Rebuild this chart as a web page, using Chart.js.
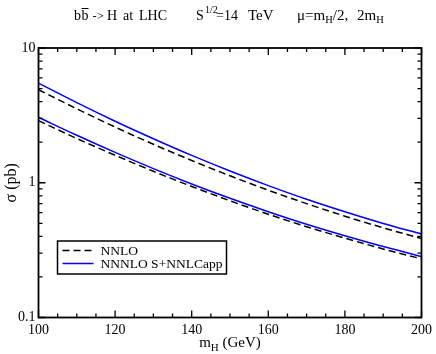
<!DOCTYPE html>
<html>
<head>
<meta charset="utf-8">
<script src="https://cdn.jsdelivr.net/npm/chart.js@4/dist/chart.umd.min.js"></script>
<style>
html,body{margin:0;padding:0;background:#fff;}
#wrap{width:436px;height:354px;position:relative;}
</style>
</head>
<body>
<div id="wrap"><canvas id="c" width="436" height="354"></canvas></div>
<script>
// ---- data ----
const massGeV = [100, 110, 120, 130, 140, 150, 160, 170, 180, 190, 200];
const nnloUpper  = [4.90, 3.54, 2.59, 1.93, 1.464, 1.126, 0.880, 0.700, 0.565, 0.463, 0.386];
const nnloLower  = [2.89, 2.13, 1.60, 1.216, 0.939, 0.735, 0.584, 0.472, 0.388, 0.3225, 0.2725];
const nnnloUpper = [5.49, 3.93, 2.86, 2.12, 1.595, 1.222, 0.952, 0.754, 0.609, 0.499, 0.417];
const nnnloLower = [3.06, 2.25, 1.68, 1.273, 0.980, 0.767, 0.610, 0.492, 0.404, 0.336, 0.284];
const xTickLabels = [100, 120, 140, 160, 180, 200];
const yTickLabels = [0.1, 1, 10];
const legendLabels = ['NNLO', 'NNNLO S+NNLCapp'];

const SERIF = '"Liberation Serif", "Times New Roman", serif';
const BLUE = '#0000ff';

function pts(ys){ return massGeV.map((m,i)=>({x:m, y:ys[i]})); }

const dashStyle = {borderColor:'#000', borderWidth:1.5, borderDash:[7,4], pointRadius:0, fill:false, cubicInterpolationMode:'monotone'};
const solidStyle = {borderColor:BLUE, borderWidth:1.5, pointRadius:0, fill:false, cubicInterpolationMode:'monotone'};

const decor = {
  id:'decor',
  afterDraw(chart){
    const ctx = chart.ctx, a = chart.chartArea;
    const xs = chart.scales.x, ys = chart.scales.y;
    ctx.save();
    // frame
    ctx.strokeStyle = '#000'; ctx.lineWidth = 1.8; ctx.setLineDash([]);
    ctx.strokeRect(a.left, a.top, a.right - a.left, a.bottom - a.top);
    // ticks
    ctx.lineWidth = 1.3;
    ctx.beginPath();
    for (let v = 100; v <= 200; v += 5) {
      const px = xs.getPixelForValue(v);
      const len = (v % 20 === 0) ? 7 : 4;
      ctx.moveTo(px, a.bottom); ctx.lineTo(px, a.bottom - len);
      ctx.moveTo(px, a.top); ctx.lineTo(px, a.top + len);
    }
    [0.1, 1].forEach(d => {
      for (let k = 1; k <= 10; k++) {
        const v = d * k;
        const py = ys.getPixelForValue(v);
        const len = (k === 1 || k === 10) ? 7 : 4;
        ctx.moveTo(a.left, py); ctx.lineTo(a.left + len, py);
        ctx.moveTo(a.right, py); ctx.lineTo(a.right - len, py);
      }
    });
    ctx.stroke();

    // title
    ctx.fillStyle = '#000';
    ctx.textBaseline = 'alphabetic'; ctx.textAlign = 'left';
    const f14 = '14px ' + SERIF, f10 = '10px ' + SERIF;
    const put = (t, x, y, f) => { ctx.font = f; ctx.fillText(t, x, y); return ctx.measureText(t).width; };
    const by = 20;
    put('b', 74, by, f14);
    const wb = put('b', 81.5, by, f14);
    ctx.lineWidth = 1; ctx.beginPath(); ctx.moveTo(81.5, by - 11.5); ctx.lineTo(81.5 + wb, by - 11.5); ctx.stroke();
    put('->', 92.5, by, '12.5px ' + SERIF);
    put('H', 107, by, f14);
    put('at', 123, by, f14);
    put('LHC', 139, by, f14);
    put('S', 196, by, f14);
    put('1/2', 205, by - 7, f10);
    put('=14', 216, by, f14);
    put('TeV', 248, by, '15px ' + SERIF);
    const f15 = '15px ' + SERIF, f105 = '10.5px ' + SERIF;
    let x = 297;
    x += put('\u03bc=m', x, by, f15);
    x += put('H', x, by + 3, f105);
    put('/2,', x, by, f15);
    x = 357;
    x += put('2m', x, by, f15);
    put('H', x, by + 3, f105);

    // axis titles
    const f11 = '11px ' + SERIF;
    ctx.font = f15;
    const w1 = ctx.measureText('m').width;
    ctx.font = f11; const w2 = ctx.measureText('H').width;
    ctx.font = f15; const w3 = ctx.measureText(' (GeV)').width;
    const cx = (a.left + a.right) / 2;
    let tx = cx - (w1 + w2 + w3) / 2;
    const ty = 346.5;
    tx += put('m', tx, ty, f15);
    tx += put('H', tx, ty + 4, f11);
    put(' (GeV)', tx, ty, f15);

    ctx.save();
    ctx.translate(16, (a.top + a.bottom) / 2);
    ctx.rotate(-Math.PI / 2);
    ctx.textAlign = 'center';
    ctx.font = '16px ' + SERIF;
    ctx.fillText('\u03c3 (pb)', 0, 0);
    ctx.restore();

    // legend
    const lx = 57.5, ly = 241, lw = 169, lh = 33;
    ctx.fillStyle = '#fff'; ctx.fillRect(lx, ly, lw, lh);
    ctx.strokeStyle = '#000'; ctx.lineWidth = 1.5; ctx.strokeRect(lx, ly, lw, lh);
    ctx.lineWidth = 1.5;
    ctx.setLineDash([7,4]); ctx.strokeStyle = '#000';
    ctx.beginPath(); ctx.moveTo(62.5, 250.5); ctx.lineTo(93.5, 250.5); ctx.stroke();
    ctx.setLineDash([]); ctx.strokeStyle = BLUE;
    ctx.beginPath(); ctx.moveTo(62.5, 263.5); ctx.lineTo(93.5, 263.5); ctx.stroke();
    ctx.fillStyle = '#000'; ctx.textAlign = 'left'; ctx.textBaseline = 'middle';
    ctx.font = '13.5px ' + SERIF;
    ctx.fillText(legendLabels[0], 100.5, 251);
    ctx.fillText(legendLabels[1], 100.5, 264);
    ctx.restore();
  }
};

new Chart(document.getElementById('c'), {
  type: 'line',
  data: {
    datasets: [
      Object.assign({label: legendLabels[0], data: pts(nnloUpper)}, dashStyle),
      Object.assign({label: legendLabels[0] + ' low', data: pts(nnloLower)}, dashStyle),
      Object.assign({label: legendLabels[1], data: pts(nnnloUpper)}, solidStyle),
      Object.assign({label: legendLabels[1] + ' low', data: pts(nnnloLower)}, solidStyle)
    ]
  },
  options: {
    responsive: false,
    animation: false,
    devicePixelRatio: 1,
    layout: {padding: {top: 48, right: 11, left: 0, bottom: 0}},
    plugins: {legend: {display: false}, title: {display: false}, tooltip: {enabled: false}},
    scales: {
      x: {
        type: 'linear', min: 100, max: 200,
        grid: {display: false, drawTicks: false},
        border: {display: false},
        afterBuildTicks: s => { s.ticks = xTickLabels.map(v => ({value: v})); },
        ticks: {color: '#000', font: {family: SERIF, size: 14}, padding: 4, maxRotation: 0, autoSkip: false,
                callback: v => String(v)},
        afterFit: s => { s.height = 36.5; }
      },
      y: {
        type: 'logarithmic', min: 0.1, max: 10,
        grid: {display: false, drawTicks: false},
        border: {display: false},
        afterBuildTicks: s => { s.ticks = yTickLabels.map(v => ({value: v, major: true})); },
        ticks: {color: '#000', font: {family: SERIF, size: 14}, padding: 3, autoSkip: false,
                callback: v => String(v)},
        afterFit: s => { s.width = 38.5; }
      }
    }
  },
  plugins: [decor]
});
</script>
</body>
</html>
